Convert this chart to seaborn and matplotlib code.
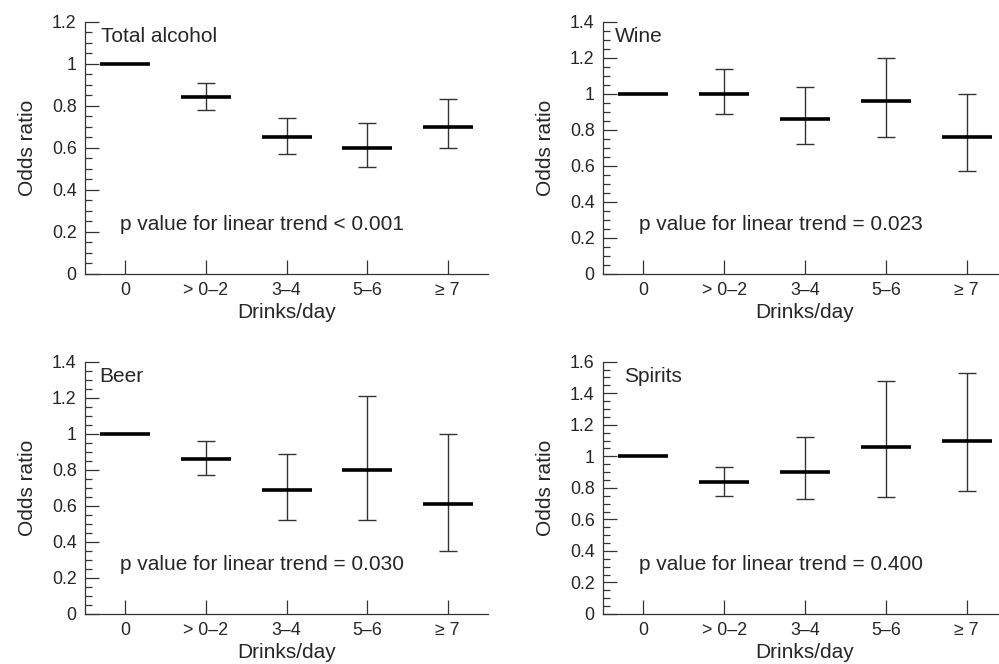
import numpy as np
import pandas as pd
import matplotlib
matplotlib.use("Agg")
import matplotlib.pyplot as plt
from matplotlib.ticker import MultipleLocator
import seaborn as sns

# drinks/day categories
categories = ["0", "> 0\u20132", "3\u20134", "5\u20136", "\u2265 7"]

# odds ratios with 95% CI (reference category has no CI)
total_or = [1.0, 0.84, 0.65, 0.60, 0.70]
total_lo = [np.nan, 0.78, 0.57, 0.51, 0.60]
total_hi = [np.nan, 0.91, 0.74, 0.72, 0.83]

wine_or = [1.0, 1.0, 0.86, 0.96, 0.76]
wine_lo = [np.nan, 0.89, 0.72, 0.76, 0.57]
wine_hi = [np.nan, 1.14, 1.04, 1.20, 1.00]

beer_or = [1.0, 0.86, 0.69, 0.80, 0.61]
beer_lo = [np.nan, 0.77, 0.52, 0.52, 0.35]
beer_hi = [np.nan, 0.96, 0.89, 1.21, 1.00]

spirits_or = [1.0, 0.84, 0.90, 1.06, 1.10]
spirits_lo = [np.nan, 0.75, 0.73, 0.74, 0.78]
spirits_hi = [np.nan, 0.93, 1.12, 1.48, 1.53]

panel_names = ["Total alcohol", "Wine", "Beer", "Spirits"]
p_texts = ["p value for linear trend < 0.001",
           "p value for linear trend = 0.023",
           "p value for linear trend = 0.030",
           "p value for linear trend = 0.400"]
y_max = [1.2, 1.4, 1.4, 1.6]

series = [(total_or, total_lo, total_hi), (wine_or, wine_lo, wine_hi),
          (beer_or, beer_lo, beer_hi), (spirits_or, spirits_lo, spirits_hi)]

sns.set_theme(style="ticks")
plt.rcParams["font.family"] = ["Liberation Sans", "DejaVu Sans"]

fig = plt.figure(figsize=(9.99, 6.64), dpi=100)
W, H = 999, 664
# axes boxes in pixels: left, top, width, height
boxes = [(85, 21.7, 403, 252.3), (603, 21.7, 404, 252.3),
         (85, 361.7, 403, 252.3), (603, 361.7, 404, 252.3)]
name_x = [0.040, 0.030, 0.035, 0.052]

line_col = "#333333"
for i in range(4):
    l, t, w, h = boxes[i]
    ax = fig.add_axes([l / W, 1 - (t + h) / H, w / W, h / H])
    est, lo, hi = series[i]
    df = pd.DataFrame({"cat": categories, "or": est, "lo": lo, "hi": hi})
    pos = np.arange(len(categories))

    ci = df.dropna()
    cpos = pos[df["lo"].notna().values]
    ax.errorbar(cpos, ci["or"], yerr=[ci["or"] - ci["lo"], ci["hi"] - ci["or"]],
                fmt="none", ecolor=line_col, elinewidth=1.0, capsize=6.5,
                capthick=1.0, zorder=2)
    sns.scatterplot(data=df, x="cat", y="or", marker="_", s=36 ** 2,
                    color="black", linewidth=2.6, ax=ax, zorder=3, legend=False)

    ax.set_xlim(-0.5, 4.5)
    ax.set_ylim(0, y_max[i])
    ax.set_xticks(pos)
    ax.set_xticklabels(categories)
    ax.yaxis.set_major_locator(MultipleLocator(0.2))
    ax.yaxis.set_minor_locator(MultipleLocator(0.05))
    ax.set_yticklabels([("%g" % v) for v in ax.get_yticks()])
    ax.tick_params(axis="both", which="major", direction="in", length=10,
                   width=0.9, color=line_col, labelsize=12.8, pad=6)
    ax.tick_params(axis="y", which="minor", direction="in", length=5,
                   width=0.9, color=line_col)
    ax.tick_params(axis="x", pad=6)
    for s in ["top", "right"]:
        ax.spines[s].set_visible(False)
    for s in ["left", "bottom"]:
        ax.spines[s].set_color(line_col)
        ax.spines[s].set_linewidth(0.9)

    ax.set_xlabel("Drinks/day", fontsize=15, labelpad=3)
    ax.set_ylabel("Odds ratio", fontsize=15, labelpad=11)
    ax.text(name_x[i], 0.94, panel_names[i], transform=ax.transAxes,
            ha="left", va="center", fontsize=15)
    ax.text(0.088, 0.195, p_texts[i], transform=ax.transAxes,
            ha="left", va="center", fontsize=15)

fig.savefig("out.png", dpi=100)
